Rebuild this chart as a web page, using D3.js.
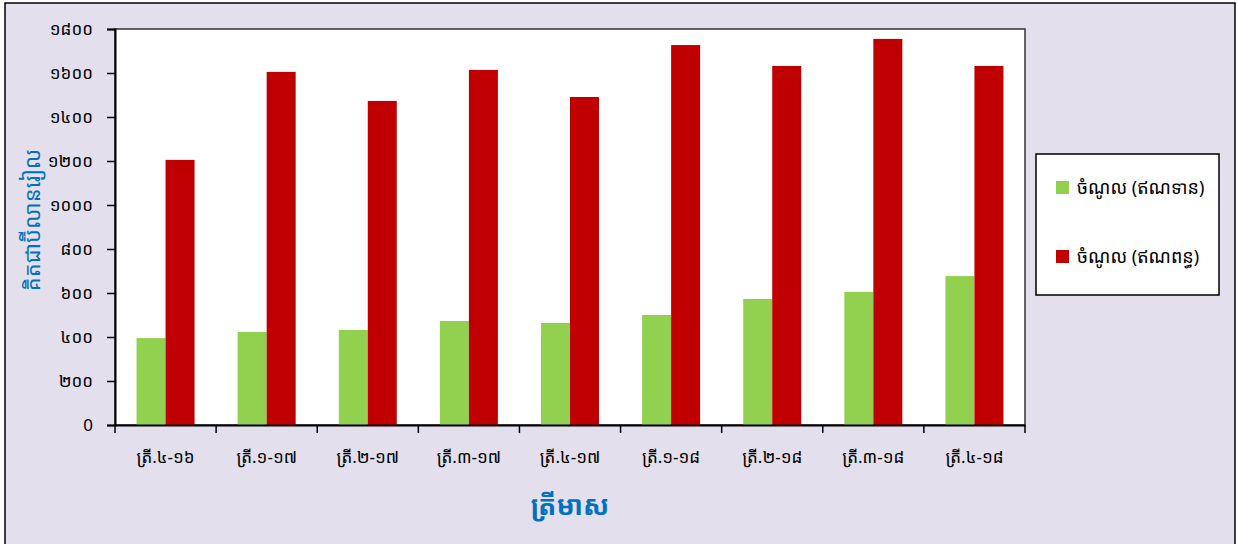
<!DOCTYPE html>
<html>
<head>
<meta charset="utf-8">
<script src="https://cdn.jsdelivr.net/npm/d3@7"></script>
<style>
  body { margin: 0; background: #fff; }
  text { font-family: "Khmer OS", "Noto Sans Khmer", "Noto Sans", sans-serif; }
</style>
</head>
<body>
<script>
// quarters, values in billion riel
var quarters = ["ត្រី.៤-១៦", "ត្រី.១-១៧", "ត្រី.២-១៧", "ត្រី.៣-១៧", "ត្រី.៤-១៧", "ត្រី.១-១៨", "ត្រី.២-១៨", "ត្រី.៣-១៨", "ត្រី.៤-១៨"];
var taxRevenue = [395, 423, 432, 473, 464, 500, 573, 605, 677];
var nonTaxRevenue = [1205, 1605, 1473, 1614, 1491, 1727, 1632, 1755, 1632];
var yTicks = [0, 200, 400, 600, 800, 1000, 1200, 1400, 1600, 1800];
var yTickLabels = ["0", "២០០", "៤០០", "៦០០", "៨០០", "១០០០", "១២០០", "១៤០០", "១៦០០", "១៨០០"];
var seriesNames = ["ចំណូល (ឥណទាន)", "ចំណូល (ឥណពន្ធ)"];
var seriesColors = ["#92D050", "#C00000"];

window.onload = function(){
    var w = 1237, h = 544;
    var svg = d3.select("body").append("svg")
        .attr("width", w)
        .attr("height", h);

    // outer frame
    svg.append("rect")
        .attr("x", 5).attr("y", 3)
        .attr("width", 1230).attr("height", 545)
        .style("fill", "#E4DFEC")
        .style("stroke", "#000")
        .style("stroke-width", 1.5);

    var left = 115, right = 1025, top = 29, bottom = 425;

    var x = d3.scaleBand()
        .domain(quarters)
        .range([left, right]);
    var inner = d3.scaleBand()
        .domain([0, 1])
        .range([0, 58]);
    var y = d3.scaleLinear()
        .domain([0, 1800])
        .range([bottom, top]);

    // plot area
    svg.append("rect")
        .attr("x", left).attr("y", top)
        .attr("width", right - left).attr("height", bottom - top)
        .style("fill", "#fff")
        .style("stroke", "#333")
        .style("stroke-width", 1.5);

    var data = quarters.map(function(q, i){
        return {q: q, vals: [taxRevenue[i], nonTaxRevenue[i]]};
    });

    var groups = svg.selectAll(".grp")
        .data(data)
        .enter()
        .append("g")
        .attr("class", "grp")
        .attr("transform", function(d){
            return "translate(" + (x(d.q) + (x.bandwidth() - 58) / 2) + ",0)";
        });

    groups.selectAll("rect")
        .data(function(d){ return d.vals; })
        .enter()
        .append("rect")
        .attr("x", function(d, i){ return inner(i); })
        .attr("width", inner.bandwidth())
        .attr("y", function(d){ return y(d); })
        .attr("height", function(d){ return bottom - y(d); })
        .style("fill", function(d, i){ return seriesColors[i]; });

    // y axis
    var yAxis = d3.axisLeft(y)
        .tickValues(yTicks)
        .tickSize(8)
        .tickPadding(14)
        .tickFormat(function(d, i){ return yTickLabels[i]; });
    var ya = svg.append("g")
        .attr("transform", "translate(" + left + ",0)")
        .call(yAxis);
    ya.select(".domain").style("stroke", "#000").style("stroke-width", 2);
    ya.selectAll(".tick line").style("stroke", "#000").style("stroke-width", 1.5);
    ya.selectAll(".tick text")
        .style("font-size", "17px")
        .style("fill", "#000");

    // x axis with ticks at band boundaries
    var xAxis = d3.axisBottom(x).tickSize(0).tickPadding(23);
    var xa = svg.append("g")
        .attr("transform", "translate(0," + bottom + ")")
        .call(xAxis);
    xa.select(".domain").style("stroke", "#000").style("stroke-width", 2);
    xa.selectAll(".tick text")
        .style("font-size", "17px")
        .style("fill", "#000")
        .attr("dy", "0.9em");
    var bounds = quarters.map(function(q){ return x(q); }).concat([right]);
    xa.selectAll(".bound")
        .data(bounds)
        .enter()
        .append("line")
        .attr("class", "bound")
        .attr("x1", function(d){ return d; })
        .attr("x2", function(d){ return d; })
        .attr("y1", 0).attr("y2", 8)
        .style("stroke", "#000")
        .style("stroke-width", 1.5);

    // axis titles
    svg.append("text")
        .attr("transform", "translate(40,220) rotate(-90)")
        .attr("text-anchor", "middle")
        .style("font-size", "22px")
        .style("fill", "#0070C0")
        .text("គិតជាប៊ីលានរៀល");

    svg.append("text")
        .attr("x", 570).attr("y", 515)
        .attr("text-anchor", "middle")
        .style("font-size", "27px")
        .style("font-weight", "bold")
        .style("fill", "#0070C0")
        .text("ត្រីមាស");

    // legend
    var lg = svg.append("g").attr("transform", "translate(1036,154)");
    lg.append("rect")
        .attr("width", 183).attr("height", 141)
        .style("fill", "#fff")
        .style("stroke", "#000")
        .style("stroke-width", 1.5);
    var items = lg.selectAll(".item")
        .data(seriesNames)
        .enter()
        .append("g")
        .attr("class", "item")
        .attr("transform", function(d, i){ return "translate(20," + (34 + i * 69) + ")"; });
    items.append("rect")
        .attr("y", -7).attr("width", 13).attr("height", 13)
        .style("fill", function(d, i){ return seriesColors[i]; });
    items.append("text")
        .attr("x", 21).attr("dy", "0.35em")
        .style("font-size", "18px")
        .style("fill", "#000")
        .text(function(d){ return d; });
};
</script>
</body>
</html>
